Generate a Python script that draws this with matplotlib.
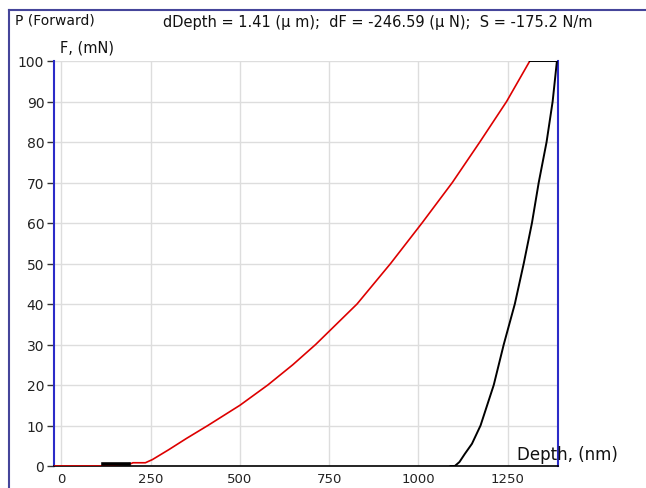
import matplotlib
matplotlib.use("Agg")
from matplotlib import pyplot as plt
from matplotlib.lines import Line2D

# loading curve (red), depth in nm, force in mN
load_depth = [-20, 120, 195, 200, 235, 255, 300, 350, 410, 500, 578, 648, 712, 828, 922, 1010, 1095, 1172, 1247, 1312]
load_force = [0, 0, 0.6, 0.8, 0.8, 1.6, 4.0, 6.8, 10, 15, 20, 25, 30, 40, 50, 60, 70, 80, 90, 100]

# unloading curve (black)
unload_depth = [1312, 1388, 1376, 1359, 1337, 1318, 1295, 1270, 1239, 1211, 1174, 1150, 1130, 1115, 1102, 1090]
unload_force = [100, 100, 90, 80, 70, 60, 50, 40, 30, 20, 10, 5.5, 3, 1, 0, 0]

# short flat segment near the start
hold_depth = [117, 190]
hold_force = [0.5, 0.5]

xticks = [0, 250, 500, 750, 1000, 1250]
yticks = [0, 10, 20, 30, 40, 50, 60, 70, 80, 90, 100]

plt.rcParams['font.family'] = ['DejaVu Sans']
fig = plt.figure(figsize=(6.46, 4.89), dpi=100)
fig.patch.set_facecolor('white')

ax = fig.add_axes([54 / 646, 1 - 467 / 489, (558 - 54) / 646, (467 - 62) / 489])

ax.plot(load_depth, load_force, color='#dd0000', lw=1.2, zorder=3)
ax.plot(unload_depth, unload_force, color='black', lw=1.4, zorder=3)
ax.plot(hold_depth, hold_force, color='black', lw=2.6, zorder=3)

ax.set_xlim(-21, 1391)
ax.set_ylim(0, 100)
ax.set_xticks(xticks)
ax.set_yticks(yticks)
ax.grid(True, color='#dddddd', lw=1)
ax.set_axisbelow(True)

for s in ['left', 'right']:
    ax.spines[s].set_color('#2b2bc8')
    ax.spines[s].set_linewidth(1.5)
ax.spines['top'].set_visible(False)
ax.spines['bottom'].set_color('black')
ax.spines['bottom'].set_linewidth(1.2)

ax.tick_params(axis='y', length=5, width=1, color='#333333', labelsize=10, pad=2, labelcolor='#222222')
ax.tick_params(axis='x', length=0, labelsize=9.5, pad=4, labelcolor='#222222')

# texts
txt = dict(fontsize=10.5, va='center', ha='left', color='#111111')
fig.text(15 / 646, 1 - 20 / 489, 'P (Forward)', fontsize=10, va='center', ha='left', color='#111111')
fig.text(163 / 646, 1 - 22 / 489,
         'dDepth = 1.41 (\u03bc m);  dF = -246.59 (\u03bc N);  S = -175.2 N/m', **txt)
fig.text(60 / 646, 1 - 48 / 489, 'F, (mN)', **txt)
fig.text(517 / 646, 1 - 455 / 489, 'Depth, (nm)', fontsize=12, va='center', ha='left', color='#111111')

# outer frame
frame_col = '#45459a'
fig.add_artist(Line2D([9 / 646, 9 / 646], [0, 1 - 11 / 489], transform=fig.transFigure, color=frame_col, lw=1.5))
fig.add_artist(Line2D([9 / 646, 1], [1 - 11 / 489, 1 - 11 / 489], transform=fig.transFigure, color=frame_col, lw=1.5))

fig.savefig('out.png', dpi=100)
